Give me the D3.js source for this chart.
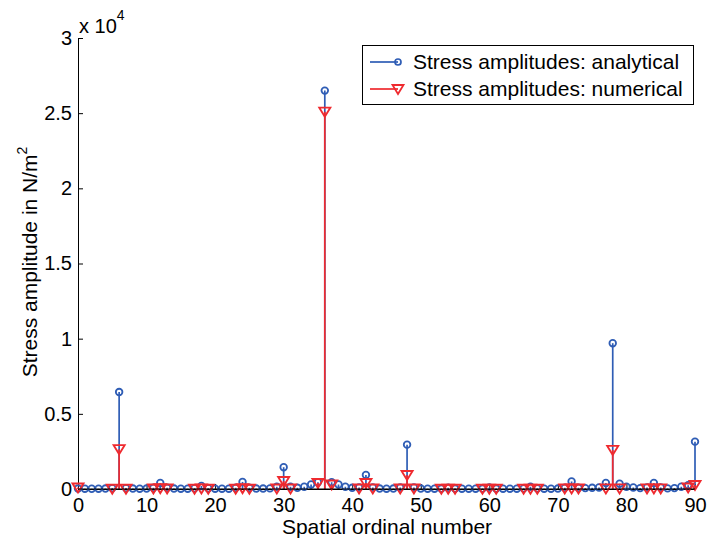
<!DOCTYPE html>
<html><head><meta charset="utf-8">
<script src="https://cdn.jsdelivr.net/npm/d3@7"></script>
<style>body{margin:0;background:#fff}svg{display:block}text{font-family:"Liberation Sans",Arial,sans-serif}</style>
</head><body>
<svg id="c" width="707" height="542"></svg>
<script>
// analytical stress amplitudes at spatial ordinal numbers 0..90
const analyticalX = d3.range(0, 91);
const analyticalY = [
  30, 20, 15, 20, 30, 60, 6450, 60, 30, 20,
  30, 80, 400, 80, 30, 20, 20, 50, 200, 50,
  20, 20, 20, 80, 470, 80, 30, 30, 40, 150,
  1450, 150, 80, 150, 300, 450, 26500, 450, 300, 150,
  80, 100, 930, 100, 30, 20, 30, 100, 2950, 100,
  30, 20, 20, 30, 80, 30, 20, 20, 20, 30,
  100, 30, 20, 20, 20, 40, 150, 40, 20, 20,
  30, 80, 500, 80, 60, 80, 100, 400, 9700, 350,
  150, 100, 60, 100, 400, 100, 40, 60, 150, 250,
  3150
];
// numerical stress amplitudes
const numericalX = [0, 5, 6, 7, 11, 12, 13, 17, 18, 19, 23, 24, 25, 29, 30, 31, 35, 36, 37, 41, 42, 43,
  47, 48, 49, 53, 54, 55, 59, 60, 61, 65, 66, 67, 71, 72, 73, 77, 78, 79, 83, 84, 85, 89, 90];
const numericalY = [100, 20, 2650, 20, 30, 60, 30, 20, 40, 20, 20, 60, 20, 30, 530, 30, 400, 25100, 300, 30, 400, 30,
  30, 930, 30, 20, 20, 20, 20, 20, 20, 20, 20, 20, 30, 30, 30, 40, 2600, 40, 40, 40, 40, 100, 270];
const xTicks = [0, 10, 20, 30, 40, 50, 60, 70, 80, 90];
const yTicks = [0, 5000, 10000, 15000, 20000, 25000, 30000];
const yTickLabels = ["0", "0.5", "1", "1.5", "2", "2.5", "3"];
const seriesNames = ["Stress amplitudes: analytical", "Stress amplitudes: numerical"];
const blue = "#2f5db5", red = "#ef2a2f";

const svg = d3.select("#c");
const L = 78, R = 695, T = 38, B = 489;
const x = d3.scaleLinear().domain([0, 90]).range([L, R]);
const y = d3.scaleLinear().domain([0, 30000]).range([B, T]);

// axes
const xa = svg.append("g").attr("transform", `translate(0,${B})`)
  .call(d3.axisBottom(x).tickValues(xTicks).tickSize(-5).tickPadding(9).tickSizeOuter(0));
const ya = svg.append("g").attr("transform", `translate(${L},0)`)
  .call(d3.axisLeft(y).tickValues(yTicks).tickFormat((d, i) => yTickLabels[i]).tickSize(-5).tickPadding(6).tickSizeOuter(0));
[xa, ya].forEach(g => {
  g.select(".domain").attr("stroke", "#000").attr("stroke-width", 1);
  g.selectAll(".tick line").attr("stroke", "#000");
  g.selectAll(".tick text").attr("font-size", 20).attr("fill", "#000")
    .attr("font-family", "Liberation Sans, Arial, sans-serif");
});
xa.selectAll(".tick text").attr("dy", "0.71em");

// exponent
const ex = svg.append("text").attr("x", 79).attr("y", 33).attr("font-size", 20).attr("fill", "#000");
ex.append("tspan").text("x 10");
ex.append("tspan").attr("dy", -13).attr("font-size", 14).text("4");

// axis labels
svg.append("text").attr("x", 387).attr("y", 534).attr("text-anchor", "middle")
  .attr("font-size", 21).attr("fill", "#000").text("Spatial ordinal number");
const yl = svg.append("text").attr("transform", "translate(37,262) rotate(-90)").attr("text-anchor", "middle")
  .attr("font-size", 21).attr("fill", "#000");
yl.append("tspan").text("Stress amplitude in N/m");
yl.append("tspan").attr("dy", -10).attr("font-size", 14).text("2");

// stems
const aData = analyticalX.map((v, i) => ({x: v, y: analyticalY[i]}));
const nData = numericalX.map((v, i) => ({x: v, y: numericalY[i]}));

svg.append("g").selectAll("line").data(aData).join("line")
  .attr("x1", d => x(d.x)).attr("x2", d => x(d.x)).attr("y1", y(0)).attr("y2", d => y(d.y))
  .attr("stroke", blue).attr("stroke-width", 1.7);
svg.append("g").selectAll("circle").data(aData).join("circle")
  .attr("cx", d => x(d.x)).attr("cy", d => y(d.y)).attr("r", 3.3)
  .attr("fill", "none").attr("stroke", blue).attr("stroke-width", 1.8);

svg.append("g").selectAll("line").data(nData).join("line")
  .attr("x1", d => x(d.x)).attr("x2", d => x(d.x)).attr("y1", y(0)).attr("y2", d => y(d.y))
  .attr("stroke", red).attr("stroke-width", 1.7);
const tri = "M-5.5,-4 L5.5,-4 L0,5 Z";
svg.append("g").selectAll("path").data(nData).join("path")
  .attr("transform", d => `translate(${x(d.x)},${y(d.y)})`).attr("d", tri)
  .attr("fill", "none").attr("stroke", red).attr("stroke-width", 1.9);

// baseline
svg.append("line").attr("x1", L).attr("x2", R).attr("y1", y(0)).attr("y2", y(0))
  .attr("stroke", "#000").attr("stroke-width", 1.2);

// legend
const lg = svg.append("g");
lg.append("rect").attr("x", 362.5).attr("y", 45.5).attr("width", 331).attr("height", 59)
  .attr("fill", "#fff").attr("stroke", "#000").attr("stroke-width", 1);
[0, 1].forEach(i => {
  const cy = 62 + i * 27, col = i === 0 ? blue : red;
  lg.append("line").attr("x1", 370).attr("x2", 398).attr("y1", cy).attr("y2", cy)
    .attr("stroke", col).attr("stroke-width", 1.7);
  if (i === 0) lg.append("circle").attr("cx", 398).attr("cy", cy).attr("r", 3)
    .attr("fill", "none").attr("stroke", col).attr("stroke-width", 1.7);
  else lg.append("path").attr("transform", `translate(398,${cy})`).attr("d", tri)
    .attr("fill", "none").attr("stroke", col).attr("stroke-width", 1.8);
  lg.append("text").attr("x", 413).attr("y", cy + 7).attr("font-size", 21).attr("fill", "#000")
    .text(seriesNames[i]);
});
</script>
</body></html>
